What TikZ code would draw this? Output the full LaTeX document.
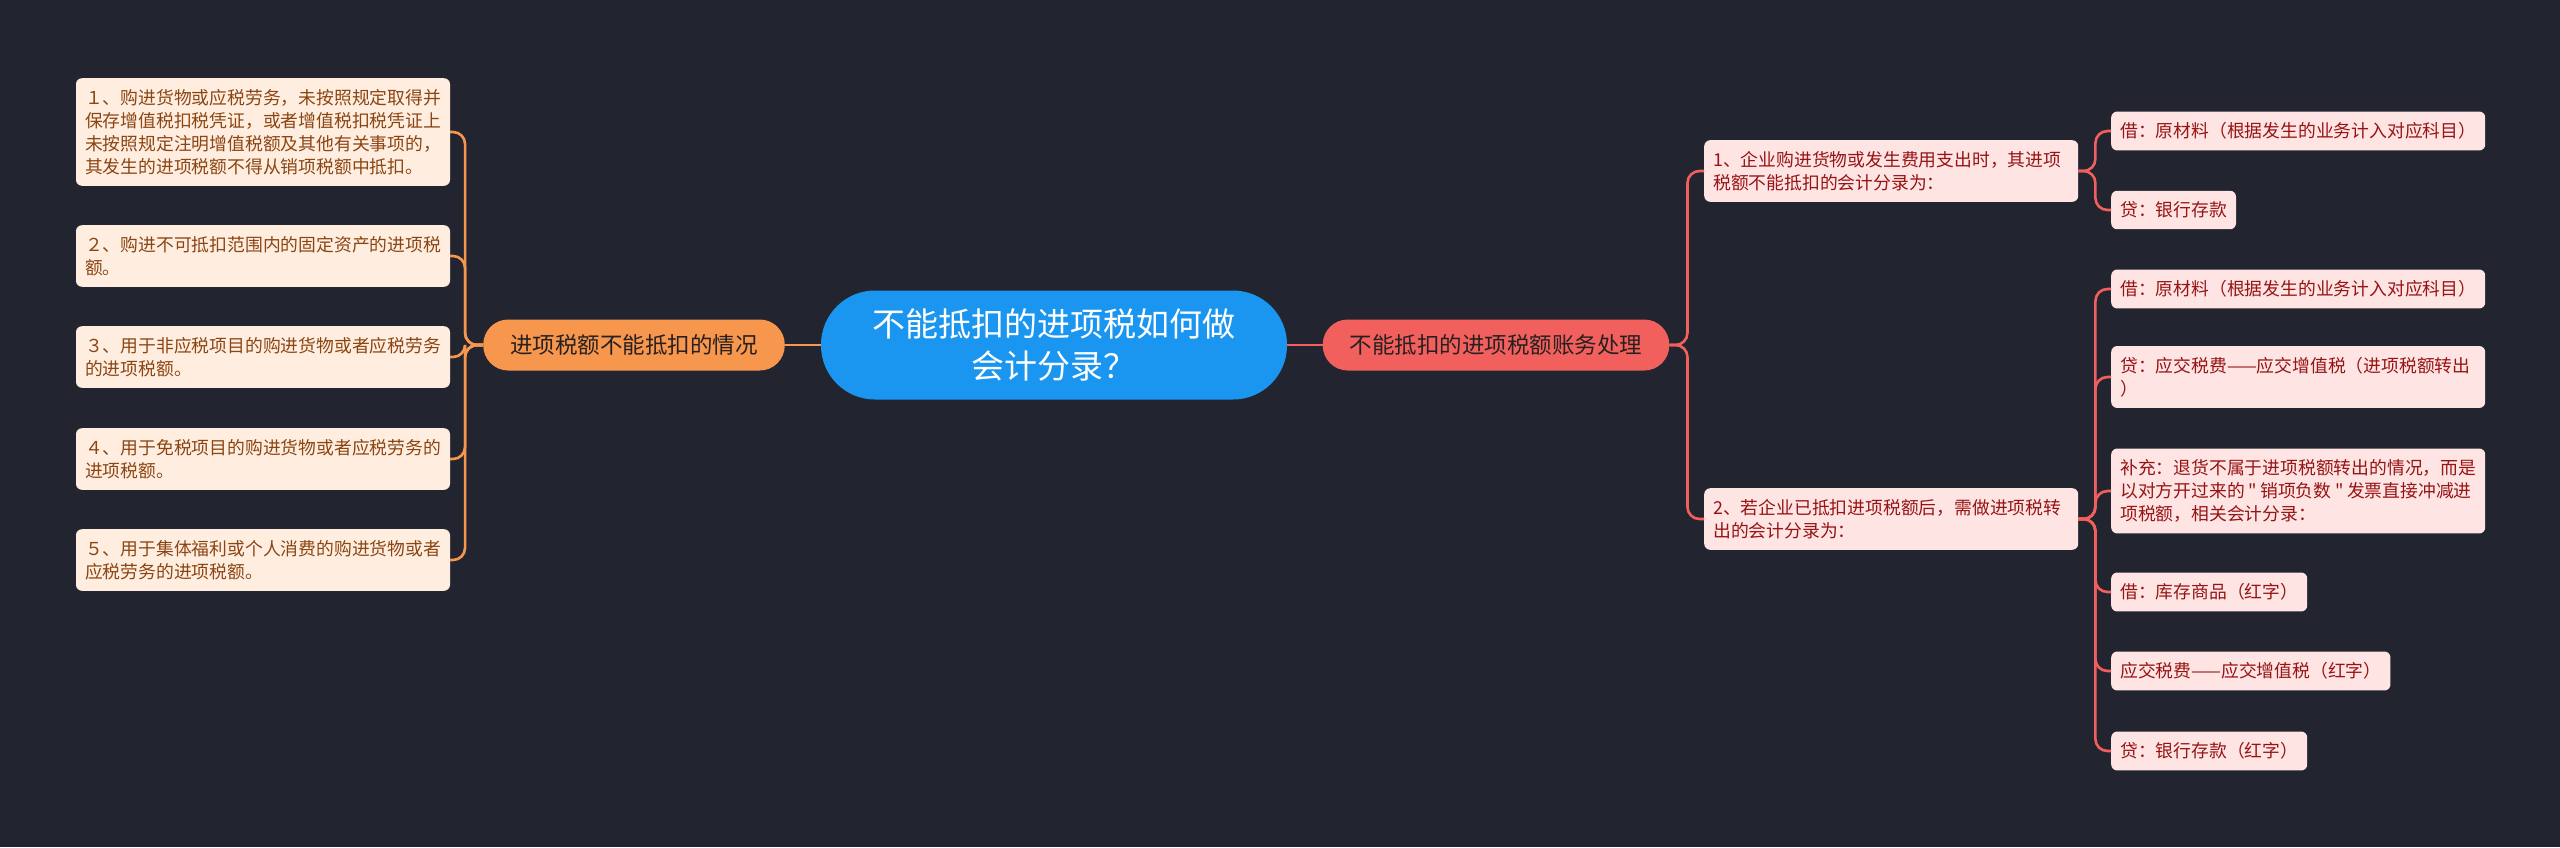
\documentclass[tikz,border=0pt]{standalone}
\usepackage{fontspec}
\setmainfont{Noto Sans CJK SC}[Ligatures=TeXOff]
\definecolor{bgcol}{RGB}{34,37,48}
\definecolor{rootcol}{RGB}{26,150,240}
\definecolor{orangecol}{RGB}{247,150,77}
\definecolor{redcol}{RGB}{242,96,94}
\definecolor{peachfill}{RGB}{255,238,224}
\definecolor{pinkfill}{RGB}{255,228,228}
\definecolor{browntext}{RGB}{139,69,19}
\definecolor{redtext}{RGB}{150,20,20}
\definecolor{darktext}{RGB}{40,32,32}

\begin{document}
\begin{tikzpicture}[x=1pt, y=-1pt,
   root_style/.style={fill=rootcol, text=white, rounded corners=54pt, minimum width=466pt,
      minimum height=109pt, inner sep=0pt, align=center, font=\fontsize{33pt}{42pt}\selectfont},
   branch_style/.style={rounded corners=25pt, minimum height=51pt, inner xsep=27pt, inner ysep=0pt,
      text=darktext, font=\fontsize{22.5pt}{27pt}\selectfont},
   leaf_style/.style={rounded corners=6pt, inner xsep=9pt, inner ysep=11pt, align=left,
      font=\fontsize{17.8pt}{23pt}\selectfont},
   left_leaf/.style={leaf_style, fill=peachfill, text=browntext, text width=356pt},
   right_leaf/.style={leaf_style, fill=pinkfill, text=redtext, anchor=west},
   wide/.style={text width=356pt},
   left_edge/.style={draw=orangecol, line width=2.6pt, rounded corners=12pt},
   right_edge/.style={draw=redcol, line width=2.6pt, rounded corners=12pt}]
	\path[use as bounding box, fill=bgcol] (0,0) rectangle (2560,847);

	\node [root_style] (root) at (1054,345) {不能抵扣的进项税如何做\\会计分录？};
	\node [branch_style, fill=orangecol] (lb) at (634,345) {进项税额不能抵扣的情况};
	\node [branch_style, fill=redcol] (rb) at (1496,345) {不能抵扣的进项税额账务处理};

	\node [left_leaf] (l1) at (263,132) {１、购进货物或应税劳务，未按照规定取得并\\保存增值税扣税凭证，或者增值税扣税凭证上\\未按照规定注明增值税额及其他有关事项的，\\其发生的进项税额不得从销项税额中抵扣。};
	\node [left_leaf] (l2) at (263,256) {２、购进不可抵扣范围内的固定资产的进项税\\额。};
	\node [left_leaf] (l3) at (263,357) {３、用于非应税项目的购进货物或者应税劳务\\的进项税额。};
	\node [left_leaf] (l4) at (263,459) {４、用于免税项目的购进货物或者应税劳务的\\进项税额。};
	\node [left_leaf] (l5) at (263,560) {５、用于集体福利或个人消费的购进货物或者\\应税劳务的进项税额。};

	\node [right_leaf, wide] (r1) at (1704,171) {1、企业购进货物或发生费用支出时，其进项\\税额不能抵扣的会计分录为：};
	\node [right_leaf, wide] (r2) at (1704,519) {2、若企业已抵扣进项税额后，需做进项税转\\出的会计分录为：};

	\node [right_leaf] (r1a) at (2111,131) {借：原材料（根据发生的业务计入对应科目）};
	\node [right_leaf] (r1b) at (2111,210) {贷：银行存款};
	\node [right_leaf] (r2a) at (2111,289) {借：原材料（根据发生的业务计入对应科目）};
	\node [right_leaf, wide] (r2b) at (2111,377) {贷：应交税费——应交增值税（进项税额转出\\）};
	\node [right_leaf, wide] (r2c) at (2111,491) {补充：退货不属于进项税额转出的情况，而是\\\mbox{以对方开过来的\hspace{0.2em}"\hspace{0.2em}销项负数\hspace{0.2em}"\hspace{0.2em}发票直接冲减进}\\项税额，相关会计分录：};
	\node [right_leaf] (r2d) at (2111,592) {借：库存商品（红字）};
	\node [right_leaf] (r2e) at (2111,671) {应交税费——应交增值税（红字）};
	\node [right_leaf] (r2f) at (2111,751) {贷：银行存款（红字）};

	\draw [left_edge] (root.west) -- (lb.east);
	\draw [right_edge] (root.east) -- (rb.west);

	\foreach \to in {l1,l2,l3,l4,l5}
	  \draw [left_edge] (lb.west) -- ++(-18,0) |- (\to.east);
	\foreach \to in {r1,r2}
	  \draw [right_edge] (rb.east) -- ++(18,0) |- (\to.west);
	\foreach \to in {r1a,r1b}
	  \draw [right_edge] (r1.east) -- ++(17,0) |- (\to.west);
	\foreach \to in {r2a,r2b,r2c,r2d,r2e,r2f}
	  \draw [right_edge] (r2.east) -- ++(17,0) |- (\to.west);

\end{tikzpicture}
\end{document}
